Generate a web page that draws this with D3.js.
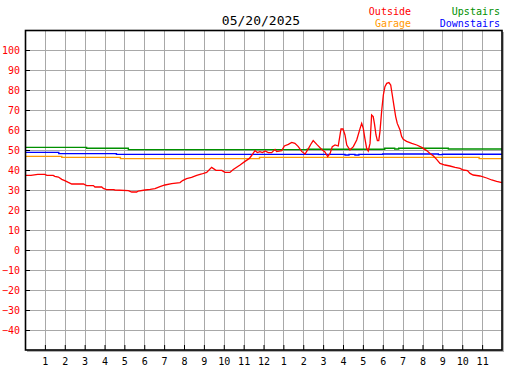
<!DOCTYPE html>
<html>
<head>
<meta charset="utf-8">
<script src="https://cdn.jsdelivr.net/npm/d3@7"></script>
<style>
  body { margin: 0; background: #fff; }
  text { font-family: "DejaVu Sans Mono", monospace; }
</style>
</head>
<body>
<div id="chart"></div>
<script>
// outside temperature, hour of day -> degrees
const outsideHours = [0, 0.3, 0.64, 1.0, 1.1, 1.42, 1.5, 1.68, 1.85, 2.0, 2.18, 2.35, 2.94, 3.1, 3.44, 3.52, 3.86, 3.94, 4.1, 4.44, 4.53, 5.2, 5.37, 5.62, 5.7, 6.04, 6.3, 6.54, 6.79, 7.04, 7.38, 7.8, 7.93, 8.13, 8.38, 8.64, 8.89, 9.14, 9.39, 9.61, 9.9, 10.06, 10.31, 10.48, 10.82, 11.07, 11.29, 11.42, 11.57, 11.69, 11.82, 11.95, 12.08, 12.24, 12.41, 12.58, 12.66, 12.92, 13.05, 13.25, 13.42, 13.58, 13.75, 13.92, 14.09, 14.26, 14.39, 14.5, 14.68, 14.93, 15.09, 15.23, 15.35, 15.46, 15.6, 15.76, 15.9, 16.0, 16.1, 16.19, 16.35, 16.52, 16.69, 16.86, 16.94, 17.02, 17.1, 17.19, 17.27, 17.36, 17.44, 17.52, 17.58, 17.66, 17.73, 17.8, 17.86, 17.95, 18.03, 18.11, 18.2, 18.31, 18.4, 18.48, 18.57, 18.65, 18.73, 18.87, 18.95, 19.03, 19.2, 19.46, 19.71, 19.96, 20.21, 20.38, 20.55, 20.71, 20.88, 21.13, 21.38, 21.64, 21.89, 22.05, 22.26, 22.39, 22.55, 22.89, 23.23, 23.48, 23.73, 24.0];
const outsideTemps = [37.3, 37.3, 37.8, 37.8, 37.3, 37.3, 36.8, 36.5, 35.3, 34.7, 33.8, 33.0, 33.0, 32.2, 32.2, 31.5, 31.5, 30.8, 30.2, 30.2, 30.0, 29.7, 29.0, 29.0, 29.5, 30.0, 30.3, 30.7, 31.7, 32.5, 33.2, 33.7, 34.7, 35.7, 36.3, 37.3, 38.0, 38.8, 41.3, 39.8, 39.8, 38.8, 38.8, 40.3, 42.5, 44.3, 45.8, 47.5, 49.7, 48.7, 49.2, 48.7, 49.5, 48.7, 48.7, 50.3, 49.2, 49.7, 52.0, 52.8, 53.8, 53.3, 51.7, 49.3, 48.0, 50.7, 53.0, 54.7, 52.8, 50.3, 49.0, 46.7, 48.3, 51.7, 52.5, 52.0, 60.5, 60.5, 57.5, 52.5, 50.0, 51.7, 55.0, 60.8, 63.3, 60.8, 55.8, 50.8, 49.5, 53.3, 67.5, 66.7, 63.3, 57.5, 54.7, 54.7, 59.2, 70.0, 77.5, 81.7, 83.3, 83.7, 82.5, 77.5, 71.7, 66.7, 63.3, 60.0, 56.7, 55.3, 54.3, 53.3, 52.5, 51.3, 49.7, 48.3, 47.0, 45.3, 43.3, 42.5, 42.0, 41.3, 40.8, 40.0, 39.7, 38.3, 37.5, 37.0, 36.0, 35.0, 34.3, 33.7];

// indoor sensors change in steps: hour where a value starts, and the value
const garageHours = [0, 1.85, 4.8, 11.8, 22.85, 24];
const garageTemps = [46.8, 46.3, 45.7, 46.3, 45.7, 45.7];
const upstairsHours = [0, 3.1, 5.2, 14.2, 18.1, 18.6, 18.8, 21.3, 24];
const upstairsTemps = [51.3, 50.9, 50.2, 50.4, 50.9, 50.5, 50.9, 50.5, 50.5];
const downstairsHours = [0, 1.7, 4.6, 16.1, 16.3, 16.6, 16.8, 18.0, 20.8, 21.0, 24];
const downstairsTemps = [48.8, 48.2, 47.8, 47.5, 47.8, 47.5, 47.8, 48.0, 47.7, 47.9, 47.9];

const yTicks = d3.range(-40, 101, 10);
const hourTicks = d3.range(1, 24);
const title = "05/20/2025";

const margin = { top: 30, right: 25, bottom: 20, left: 25 },
    width = 527 - margin.left - margin.right,
    height = 370 - margin.top - margin.bottom;

const svg = d3.select("#chart").append("svg")
    .attr("width", 527)
    .attr("height", 370)
    .append("g")
    .attr("transform", "translate(" + margin.left + "," + margin.top + ")");

const x = d3.scaleLinear().domain([0, 24]).range([0, width]);
const y = d3.scaleLinear().domain([-50, 110]).range([height, 0]);

// shadow behind the plot box
svg.append("rect")
    .attr("x", 2).attr("y", 2)
    .attr("width", width).attr("height", height)
    .attr("fill", "#b0b0b0");
svg.append("rect")
    .attr("width", width).attr("height", height)
    .attr("fill", "#fff");

// grid
svg.append("g").selectAll("line")
    .data(hourTicks).enter().append("line")
    .attr("x1", d => Math.round(x(d)) + 0.5).attr("x2", d => Math.round(x(d)) + 0.5)
    .attr("y1", 0).attr("y2", height)
    .attr("stroke", "#a8a8a8");
svg.append("g").selectAll("line")
    .data(yTicks.concat([110 - 10])).enter().append("line")
    .attr("x1", 0).attr("x2", width)
    .attr("y1", d => Math.round(y(d)) + 0.5).attr("y2", d => Math.round(y(d)) + 0.5)
    .attr("stroke", "#a8a8a8");

// series
const line = (hours, temps, curve) => d3.line()
    .x((d, i) => x(hours[i]))
    .y(d => y(d))
    .curve(curve)(temps);

const series = [
    { hours: garageHours, temps: garageTemps, color: "#ff9900", curve: d3.curveStepAfter, w: 1.4 },
    { hours: downstairsHours, temps: downstairsTemps, color: "#0000ff", curve: d3.curveStepAfter, w: 1.4 },
    { hours: upstairsHours, temps: upstairsTemps, color: "#009000", curve: d3.curveStepAfter, w: 1.4 },
    { hours: outsideHours, temps: outsideTemps, color: "#ff0000", curve: d3.curveLinear, w: 1.3 }
];
series.forEach(s => {
    svg.append("path")
        .attr("d", line(s.hours, s.temps, s.curve))
        .attr("fill", "none")
        .attr("stroke", s.color)
        .attr("stroke-width", s.w);
});

// axes
const yAxis = svg.append("g")
    .call(d3.axisLeft(y).tickValues(yTicks).tickSize(-5).tickPadding(5));
yAxis.select(".domain").remove();
yAxis.selectAll("line").attr("stroke", "#000");
yAxis.selectAll("text")
    .attr("fill", "#ff0000")
    .style("font-family", "DejaVu Sans Mono")
    .style("font-size", "10px");

const xAxis = svg.append("g")
    .attr("transform", "translate(0," + height + ")")
    .call(d3.axisBottom(x).tickValues(hourTicks).tickSize(-5).tickPadding(8)
        .tickFormat(d => d % 12 === 0 ? 12 : d % 12));
xAxis.select(".domain").remove();
xAxis.selectAll("line").attr("stroke", "#000");
xAxis.selectAll("text")
    .attr("fill", "#000")
    .style("font-family", "DejaVu Sans Mono")
    .style("font-size", "10px");

// box
svg.append("rect")
    .attr("x", 0.5).attr("y", 0.5)
    .attr("width", width - 0.5).attr("height", height - 0.5)
    .attr("fill", "none")
    .attr("stroke", "#000")
    .attr("stroke-width", 1.6);

// title and legend
d3.select("svg").append("text")
    .attr("x", 261).attr("y", 24.5)
    .attr("text-anchor", "middle")
    .style("font-size", "13px")
    .attr("fill", "#000")
    .text(title);

const legend = [
    { name: "Outside", color: "#ff0000", x: 411, y: 14.5 },
    { name: "Garage", color: "#ff9900", x: 411, y: 26.5 },
    { name: "Upstairs", color: "#009000", x: 500, y: 14.5 },
    { name: "Downstairs", color: "#0000ff", x: 500, y: 26.5 }
];
d3.select("svg").selectAll(".legend")
    .data(legend).enter().append("text")
    .attr("class", "legend")
    .attr("x", d => d.x).attr("y", d => d.y)
    .attr("text-anchor", "end")
    .style("font-size", "10px")
    .attr("fill", d => d.color)
    .text(d => d.name);
</script>
</body>
</html>
